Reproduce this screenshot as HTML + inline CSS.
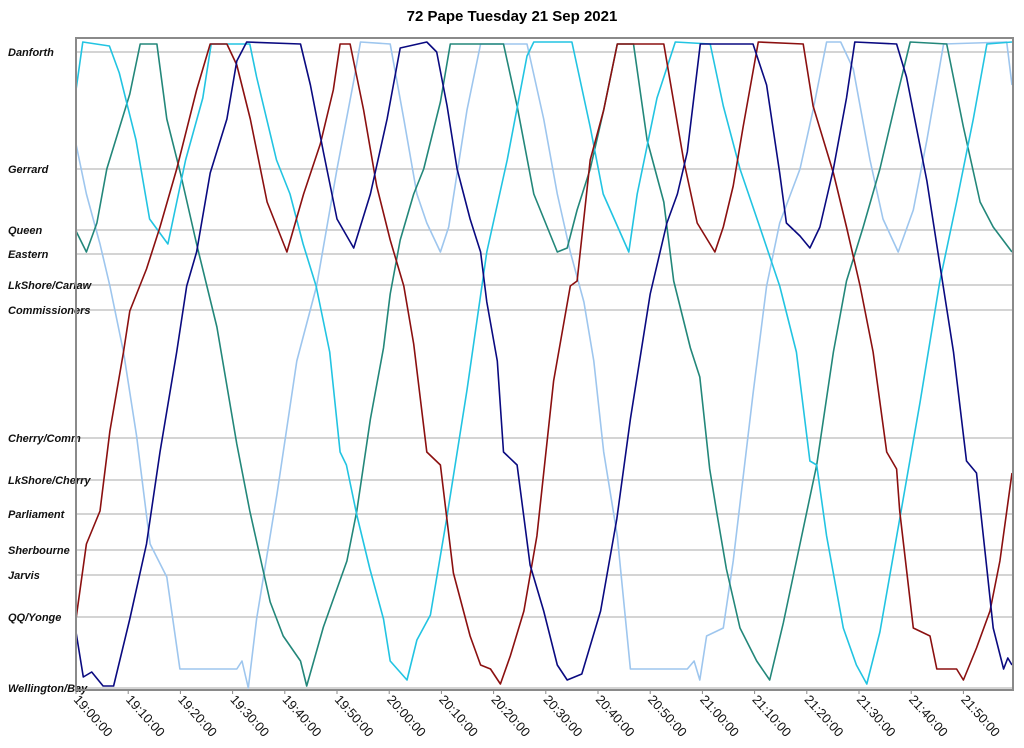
<!DOCTYPE html>
<html><head><meta charset="utf-8"><style>
body{margin:0;background:#fff;}
svg{display:block;font-family:"Liberation Sans",Arial,sans-serif;}
</style></head><body>
<svg id="chart" width="1024" height="748" viewBox="0 0 1024 748" xmlns="http://www.w3.org/2000/svg">
<text x="512" y="21" text-anchor="middle" font-size="15" font-weight="bold">72 Pape Tuesday 21 Sep 2021</text>
<g id="grid"></g><g id="ylabels"></g><g id="series"></g><g id="xaxis"></g>
<rect x="76" y="38" width="937" height="652" fill="none" stroke="#8a8a8a" stroke-width="2"/>
</svg>
<script>
const stopNames=["Danforth","Gerrard","Queen","Eastern","LkShore/Carlaw","Commissioners","Cherry/Comm","LkShore/Cherry","Parliament","Sherbourne","Jarvis","QQ/Yonge","Wellington/Bay"];
const stopPos=[636,519,458,434,403,378,250,208,174,138,113,71,0];
const tickLabels=["19:00:00","19:10:00","19:20:00","19:30:00","19:40:00","19:50:00","20:00:00","20:10:00","20:20:00","20:30:00","20:40:00","20:50:00","21:00:00","21:10:00","21:20:00","21:30:00","21:40:00","21:50:00"];
const tickMinutes=[0,10,20,30,40,50,60,70,80,90,100,110,120,130,140,150,160,170];
const redT=[0,2,4.6,6.5,9.1,10.3,13.5,16.1,19.3,23.1,25.7,28.9,30.8,33.4,36.6,40.4,43.6,46.8,49.3,50.6,52.5,55.1,57.6,60.2,62.8,64.7,67.2,69.8,72.3,75.5,77.5,79.4,81.3,83.2,85.8,88.3,91.5,94.7,96,98.5,101.1,103.7,112.6,114.5,116.4,119,122.4,124,125.9,127.8,130.7,139.3,141.2,145.1,147.6,150.2,152.7,155.3,157.2,157.8,160.4,163.6,164.9,168.7,170,172.5,175.1,177,179.3];
const redV=[69,144,177,257,336,377,419,461,519,598,644,644,623,569,486,436,494,544,598,644,644,578,502,448,402,344,236,223,115,52,23,19,4,32,77,152,307,402,407,528,578,644,644,586,528,465,436,461,502,561,646,644,582,515,461,402,336,236,219,177,60,52,19,19,8,40,77,127,215];
const navyT=[0,1.4,3,5.2,7.2,10.3,13.5,16.1,19.3,21.2,23.1,25.7,28.9,30.8,32.7,43,44.9,47.4,50,53.2,56.4,59.6,62.1,67.2,69.1,71.1,73,75.5,77.5,78.7,80.7,81.9,84.5,87,89.6,92.2,94.1,96.9,100.5,103.6,106.2,110,113.2,115.2,117.1,119.6,129.7,132.3,134.8,136.1,138.7,140.6,142.5,145.1,147.6,149.2,157.2,159.1,163,165.5,168.1,170.6,172.5,174.5,175.7,177.7,178.5,179.3];
const navyV=[56,11,16,2,2,69,144,236,336,402,436,515,569,627,646,644,603,536,469,440,494,569,640,646,636,582,519,469,436,386,327,236,223,123,77,23,8,14,77,169,269,394,465,494,536,644,644,603,515,465,452,440,461,519,590,646,644,611,507,423,336,227,215,119,60,19,30,23];
const lightT=[0,2,4.6,6.5,9.1,11.6,14.2,17.4,19.9,30.8,31.8,33,34.6,38.5,42.3,46.1,50,53.2,54.5,60.2,62.8,65.3,67.2,69.8,71.4,74.9,77.5,86.4,89.6,92.2,94.7,97.3,99.2,101.1,103.7,106.2,117.1,118.4,119.5,120.8,124,125.9,129.7,132.3,134.8,138.7,141.2,143.8,146.5,148.9,152.1,154.6,157.5,160.4,163,166.2,178.3,179.3];
const lightV=[544,494,444,402,336,252,144,111,19,19,27,0,69,194,327,402,519,607,646,644,569,494,465,436,461,578,644,644,569,494,436,386,327,236,152,19,19,27,8,52,60,127,294,402,465,519,578,646,646,619,528,469,436,478,548,644,646,603];
const tealT=[0,2,4,5.9,10.3,12.3,15.5,17.4,20,23.1,27,30.8,33.3,37.2,39.7,43,44.2,47.4,51.9,53.8,56.4,58.9,60.2,62.1,64.7,66.6,69.8,71.7,81.9,84.5,87.7,92.2,94.1,96,98.5,101.1,103.7,106.8,109.4,112.6,114.5,117.7,119.5,121.4,122.7,124.6,127.2,130.4,132.9,135.5,138.7,141.9,145.1,147.6,150.8,154,157.2,159.8,166.8,170,173.2,175.7,179.3];
const tealV=[457,436,465,519,594,644,644,569,515,444,361,244,177,86,52,27,2,61,127,177,269,340,394,448,494,519,586,644,644,582,494,436,440,478,519,578,644,644,548,486,407,340,311,219,177,119,60,27,8,65,144,223,336,407,461,519,590,646,644,561,486,461,436];
const cyanT=[0,1.3,6.4,8.3,11.5,14.1,17.6,21,24.3,25.9,33.3,34.6,38.4,41,43.5,46,48.6,50.6,51.8,53.8,56.3,58.9,60.2,63.4,65.3,67.9,71,74.9,78.7,82.6,86.4,87.7,95,98.5,101,105.9,107.5,111.3,114.8,121.5,124,127.2,131,134.8,138,140.6,141.9,143.8,147,149.5,151.5,154,157.8,161.7,165.5,168.7,171.9,174.5,179.3];
const cyanV=[598,646,642,615,548,469,444,528,590,644,644,611,528,494,444,402,336,236,223,173,119,69,27,8,48,73,169,298,436,528,632,646,646,561,494,436,494,590,646,644,582,519,461,402,336,227,223,152,60,23,4,56,169,286,407,486,569,644,646];

const NS="http://www.w3.org/2000/svg";
const X0=76,X1=1013,T0=0,T1=179.5,YT=38,YB=690,V0=-2,V1=650;
function xs(t){return X0+(t-T0)/(T1-T0)*(X1-X0);}
function ys(v){return YB-(v-V0)/(V1-V0)*(YB-YT);}
function mk(tag,attrs,parent){const e=document.createElementNS(NS,tag);for(const k in attrs)e.setAttribute(k,attrs[k]);parent.appendChild(e);return e;}
const grid=document.getElementById('grid'),yl=document.getElementById('ylabels');
stopNames.forEach((n,i)=>{
  const y=ys(stopPos[i]);
  const l=mk('line',{x1:X0,x2:X1,y1:y,y2:y,stroke:'#a8a8a8','stroke-width':1},grid);
  
  
  const t=mk('text',{x:8,y:y+4,'font-size':11,'font-weight':'bold','font-style':'italic',fill:'#111'},yl);
  t.textContent=n;
  
  
});
const xa=document.getElementById('xaxis');
tickMinutes.forEach((m,i)=>{
  const x=xs(m);
  const tk=mk('line',{x1:x,x2:x,y1:YB,y2:YB+4,stroke:'#888'},xa);
  
  
  const t=mk('text',{x:x-3,y:YB+10,'font-size':13,fill:'#111',transform:`rotate(48 ${x-3} ${YB+10})`},xa);
  t.textContent=tickLabels[i];
  
  
});
const ser=document.getElementById('series');
const seriesList=[[lightT,lightV,'#9ec6ee','light-blue-bus'],[tealT,tealV,'#23877a','teal-bus'],[cyanT,cyanV,'#22c4e2','cyan-bus'],[redT,redV,'#8b1010','red-bus'],[navyT,navyV,'#0a0a80','navy-bus']];
seriesList.forEach(s=>{
  const n=Math.min(s[0].length,s[1].length);let d='';
  for(let i=0;i<n;i++)d+=(i?'L':'M')+xs(s[0][i]).toFixed(1)+','+ys(s[1][i]).toFixed(1);
  const p=mk('path',{d:d,fill:'none',stroke:s[2],'stroke-width':1.6,'stroke-linejoin':'round'},ser);
  
  
});
</script>
</body></html>
